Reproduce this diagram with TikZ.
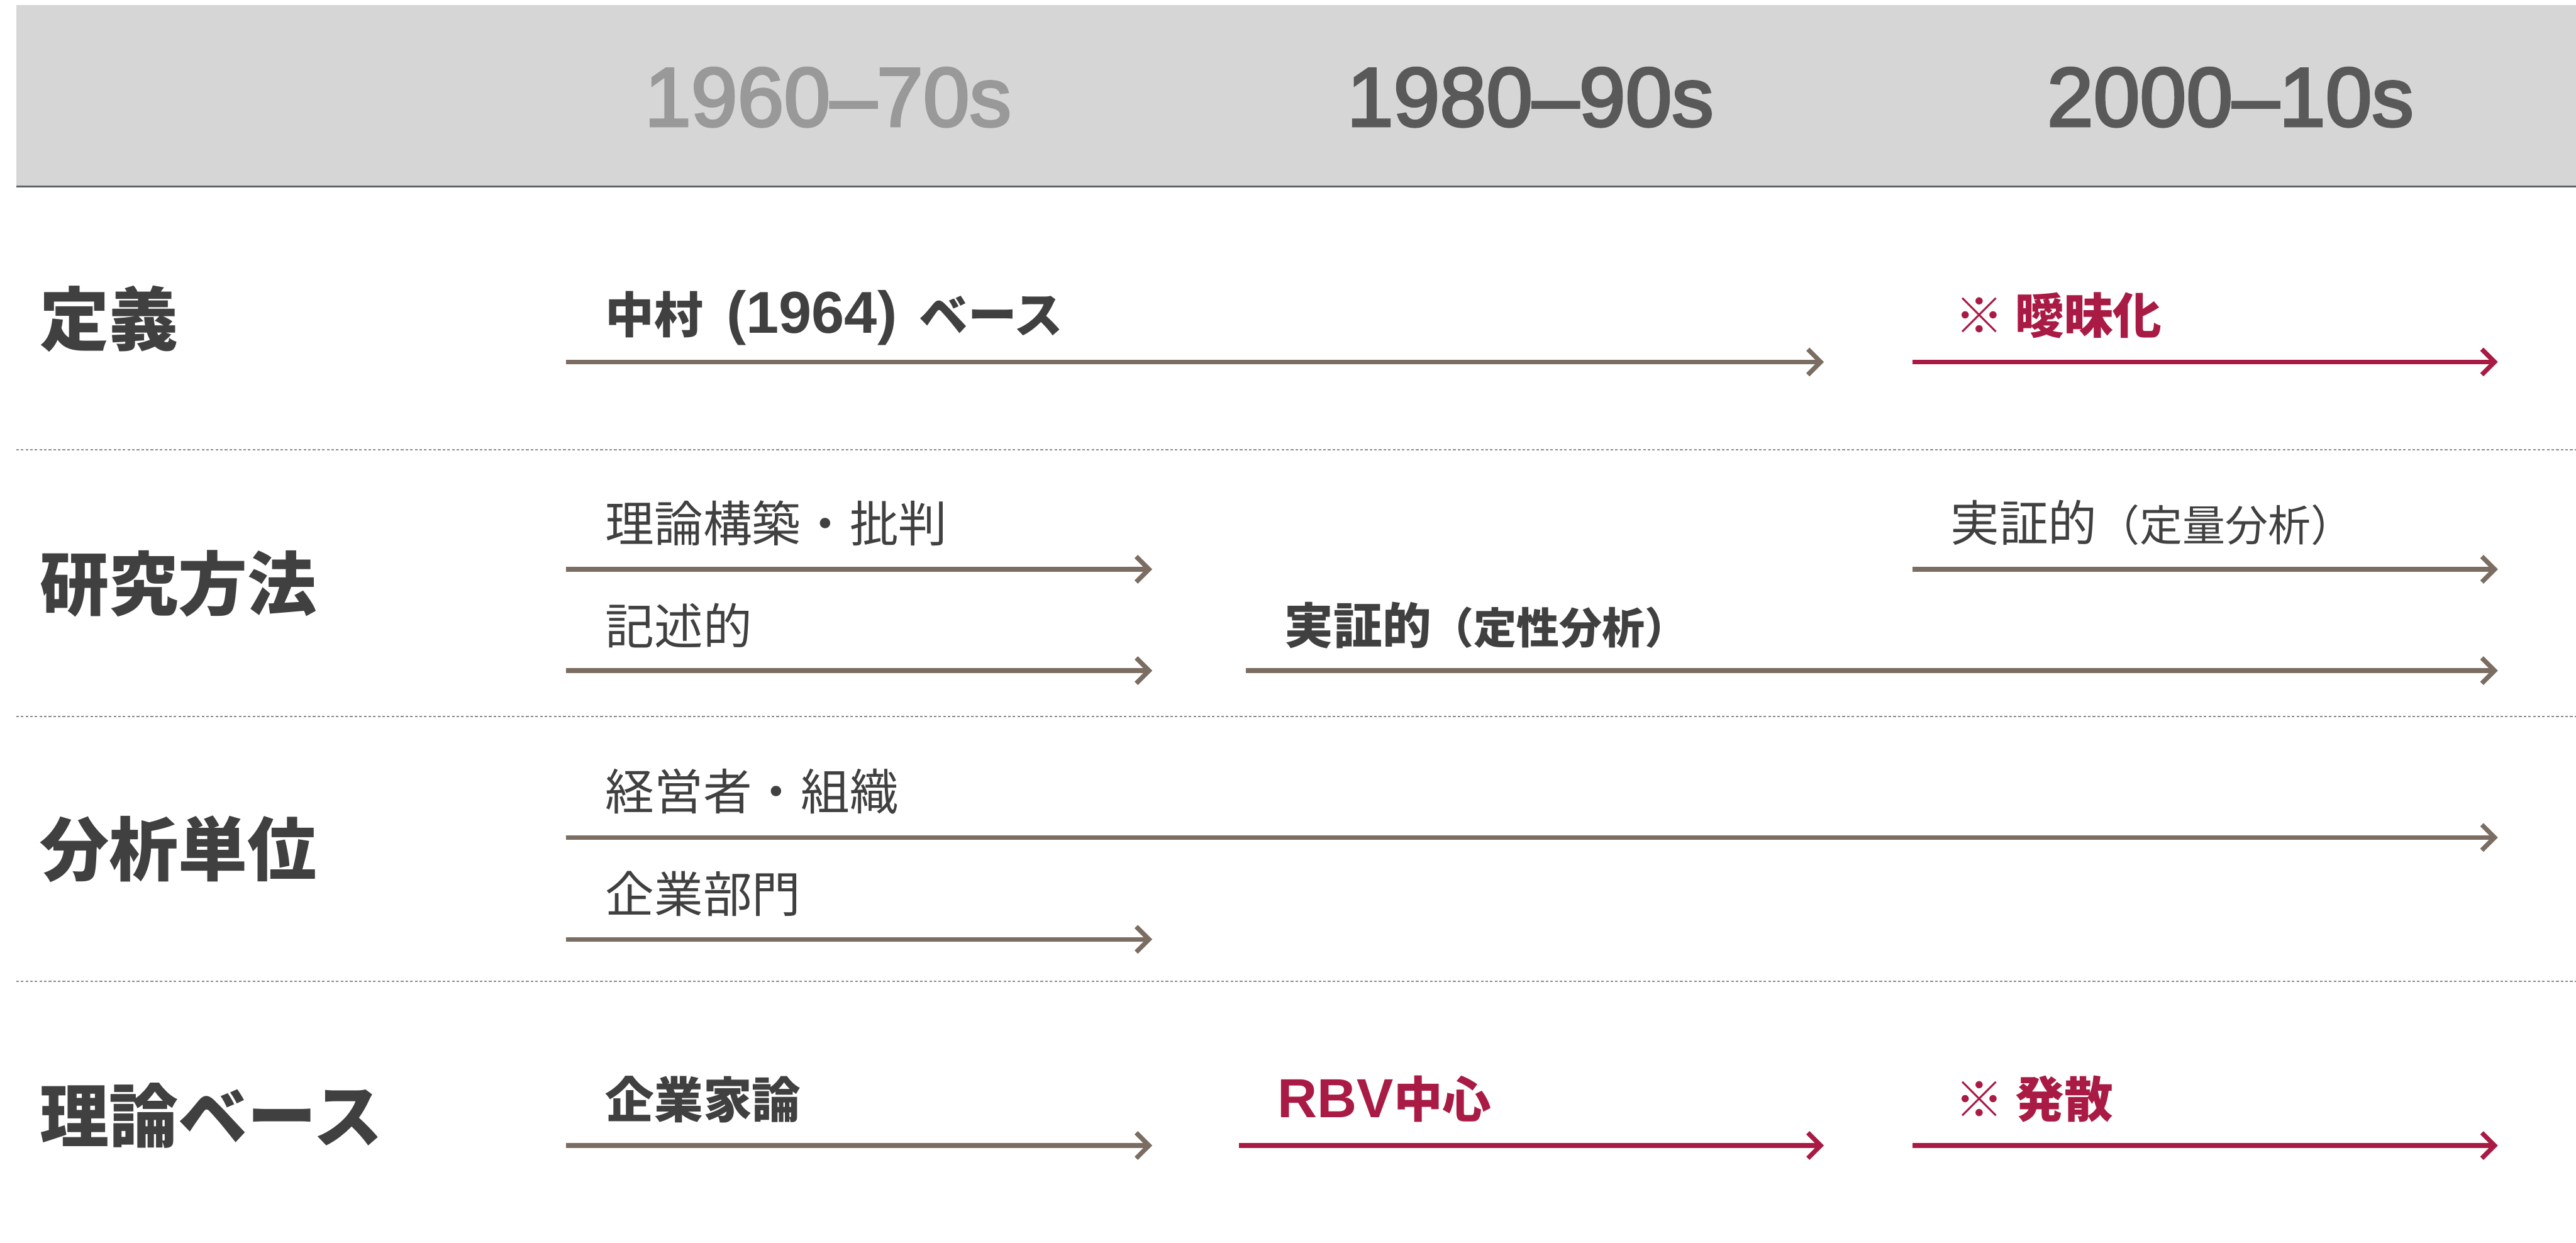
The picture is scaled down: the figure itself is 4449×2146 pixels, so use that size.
\documentclass[tikz,border=0pt]{standalone}
\usepackage{fontspec}
\usetikzlibrary{arrows.meta}
\newfontfamily\jp{Noto Sans CJK JP}
\newfontfamily\hdr{Liberation Sans}
\newfontfamily\lat{Liberation Sans}
\definecolor{txtdark}{HTML}{404040}
\definecolor{hdrlight}{HTML}{999999}
\definecolor{hdrdark}{HTML}{595959}
\definecolor{hdrbg}{HTML}{D6D6D6}
\definecolor{hdrline}{HTML}{5F6469}
\definecolor{brownarr}{HTML}{7B6D61}
\definecolor{redarr}{HTML}{A91A44}
\definecolor{sepgray}{HTML}{8A8A8A}
\newcommand{\medtext}[1]{\special{pdf:literal direct 2 Tr 1.2 w}#1\special{pdf:literal direct 0 Tr}}
\tikzset{
  x=0.01cm, y=-0.01cm,
  rowlabel/.style={anchor=west, inner sep=0pt, text=txtdark, font=\jp\bfseries\fontsize{34}{40}\selectfont},
  itemtext/.style={anchor=west, inner sep=0pt, text=txtdark, font=\jp\fontsize{24}{28}\selectfont},
  itembold/.style={itemtext, font=\jp\bfseries\fontsize{24}{28}\selectfont},
  itemred/.style={itembold, text=redarr},
  hdrtext/.style={anchor=center, inner sep=0pt, font=\hdr\fontsize{41}{48}\selectfont},
  arrbase/.style={line width=0.08cm, -{Straight Barb[length=0.22cm, width=0.44cm]}},
  brownline/.style={arrbase, draw=brownarr},
  redline/.style={arrbase, draw=redarr},
  sepline/.style={draw=sepgray, line width=0.022cm, dash pattern=on 0.045cm off 0.035cm},
}
\newcommand{\smallpar}[1]{{\fontsize{21}{24}\selectfont #1}}
\newcommand{\latbold}[2]{{\lat\bfseries\fontsize{#1}{30}\selectfont #2}}
\begin{document}
\begin{tikzpicture}
\useasboundingbox (0,0) rectangle (4449,2146);
% header
\fill[hdrbg] (28,9) rectangle (4449,322);
\coordinate (hl1) at (28,322);
\coordinate (hl2) at (4449,322);
\draw[hdrline, line width=0.03cm] (hl1) -- (hl2);
\node[hdrtext, text=hdrlight] (h1) at (1430,168) {\medtext{1960–70s}};
\node[hdrtext, text=hdrdark] (h2) at (2643,168) {\medtext{1980–90s}};
\node[hdrtext, text=hdrdark] (h3) at (3852,168) {\medtext{2000–10s}};
% separators
\coordinate (s1a) at (28,777); \coordinate (s1b) at (4449,777);
\coordinate (s2a) at (28,1237); \coordinate (s2b) at (4449,1237);
\coordinate (s3a) at (28,1694); \coordinate (s3b) at (4449,1694);
\draw[sepline] (s1a) -- (s1b);
\draw[sepline] (s2a) -- (s2b);
\draw[sepline] (s3a) -- (s3b);
% row labels
\node[rowlabel] (r1) at (68,551) {定義};
\node[rowlabel] (r2) at (68,1008) {研究方法};
\node[rowlabel] (r3) at (68,1466) {分析単位};
\node[rowlabel] (r4) at (68,1926) {理論ベース};
% row 1
\node[itembold] (t11) at (1045,549) {中村\hspace{0.4cm}\latbold{29}{(1964)}\hspace{0.38cm}ベース};
\node[itemred] (t12) at (3376,545) {※ 曖昧化};
\coordinate (a11s) at (978,625); \coordinate (a11e) at (3150,625);
\coordinate (a12s) at (3303,625); \coordinate (a12e) at (4314,625);
\draw[brownline] (a11s) -- (a11e);
\draw[redline] (a12s) -- (a12e);
% row 2
\node[itemtext] (t21) at (1045,903) {理論構築・批判};
\node[itemtext] (t22) at (3368,903) {実証的\smallpar{（定量分析）}};
\node[itemtext] (t23) at (1045,1080) {記述的};
\node[itembold] (t24) at (2218,1080) {実証的\smallpar{（定性分析）}};
\coordinate (a21s) at (978,983); \coordinate (a21e) at (1990,983);
\coordinate (a22s) at (3303,983); \coordinate (a22e) at (4314,983);
\coordinate (a23s) at (978,1158); \coordinate (a23e) at (1990,1158);
\coordinate (a24s) at (2152,1158); \coordinate (a24e) at (4314,1158);
\draw[brownline] (a21s) -- (a21e);
\draw[brownline] (a22s) -- (a22e);
\draw[brownline] (a23s) -- (a23e);
\draw[brownline] (a24s) -- (a24e);
% row 3
\node[itemtext] (t31) at (1045,1367) {経営者・組織};
\node[itemtext] (t32) at (1045,1543) {企業部門};
\coordinate (a31s) at (978,1446); \coordinate (a31e) at (4314,1446);
\coordinate (a32s) at (978,1622); \coordinate (a32e) at (1990,1622);
\draw[brownline] (a31s) -- (a31e);
\draw[brownline] (a32s) -- (a32e);
% row 4
\node[itembold] (t41) at (1045,1898) {企業家論};
\node[itemred] (t42) at (2206,1898) {\latbold{27}{RBV}中心};
\node[itemred] (t43) at (3376,1898) {※ 発散};
\coordinate (a41s) at (978,1978); \coordinate (a41e) at (1990,1978);
\coordinate (a42s) at (2140,1978); \coordinate (a42e) at (3150,1978);
\coordinate (a43s) at (3303,1978); \coordinate (a43e) at (4314,1978);
\draw[brownline] (a41s) -- (a41e);
\draw[redline] (a42s) -- (a42e);
\draw[redline] (a43s) -- (a43e);
\end{tikzpicture}
\end{document}
